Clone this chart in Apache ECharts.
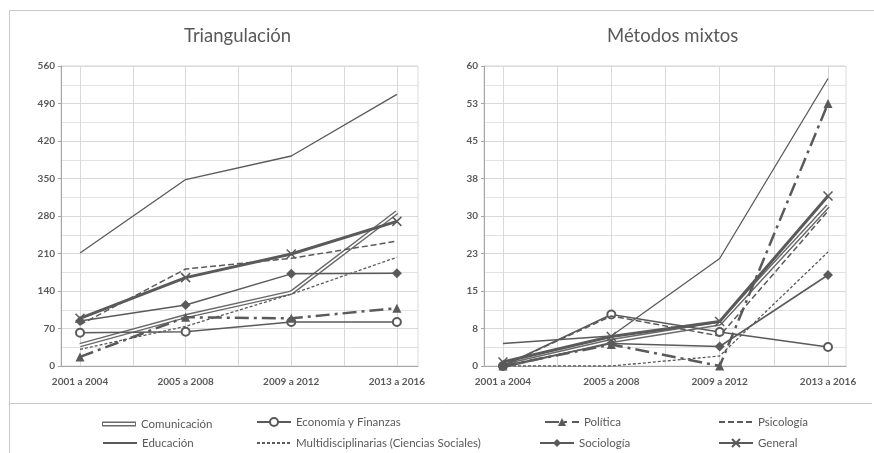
<!DOCTYPE html>
<html><head><meta charset="utf-8">
<script src="https://cdn.jsdelivr.net/npm/echarts@6/dist/echarts.min.js"></script>
<style>html,body{margin:0;padding:0;background:#fff}#c{width:874px;height:453px}</style>
</head><body><div id="c"></div>
<script>
// ---- data ----
const categories = ['2001 a 2004', '2005 a 2008', '2009 a 2012', '2013 a 2016'];
const seriesNames = ['Comunicación', 'Economía y Finanzas', 'Educación', 'Multidisciplinarias (Ciencias Sociales)',
  'Política', 'Psicología', 'Sociología', 'General'];
const chartTitles = ['Triangulación', 'Métodos mixtos'];

// Triangulación
const triComunicacion = [39, 93, 137, 287];
const triEconomia = [62, 64, 82, 82];
const triEducacion = [211, 348, 392, 507];
const triMulti = [31, 74, 134, 203];
const triPolitica = [17, 91, 89, 108];
const triPsicologia = [77, 181, 201, 233];
const triSociologia = [84, 114, 172, 173];
const triGeneral = [89, 165, 209, 270];

// Métodos mixtos
const mmComunicacion = [0, 5, 8.5, 32];
const mmEconomia = [0, 10.3, 6.8, 3.8];
const mmEducacion = [4.5, 6, 21.5, 57.5];
const mmMulti = [0, 0, 2, 22.8];
const mmPolitica = [0, 4.3, 0, 52.5];
const mmPsicologia = [0, 10, 6, 31];
const mmSociologia = [0, 4.5, 3.9, 18.2];
const mmGeneral = [0.8, 5.9, 8.9, 34];

const triValues = [triComunicacion, triEconomia, triEducacion, triMulti, triPolitica, triPsicologia, triSociologia, triGeneral];
const mmValues = [mmComunicacion, mmEconomia, mmEducacion, mmMulti, mmPolitica, mmPsicologia, mmSociologia, mmGeneral];

// ---- styles ----
const C = '#5a5a5a';
const FONT = 'Lato';
const styles = {
  'Comunicación': { width: 4.5, type: 'solid', symbol: 'none', double: true, color: '#6a6a6a' },
  'Economía y Finanzas': { width: 1.5, type: 'solid', symbol: 'emptyCircle', size: 8 },
  'Educación': { width: 1.3, type: 'solid', symbol: 'none' },
  'Multidisciplinarias (Ciencias Sociales)': { width: 1.3, type: [3, 2], symbol: 'none' },
  'Política': { width: 2.5, type: [14, 5, 3, 5], symbol: 'triangle', size: 9 },
  'Psicología': { width: 1.5, type: [6, 3], symbol: 'none' },
  'Sociología': { width: 1.5, type: 'solid', symbol: 'diamond', size: 10 },
  'General': { width: 3, type: 'solid', symbol: 'path://M0,0L10,10M10,0L0,10', size: 9, border: 1.5 }
};

function buildSeries(values, idx) {
  const out = [];
  seriesNames.forEach((name, k) => {
    const st = styles[name];
    const data = values[k].map((v, i) => [i, v]);
    const s = {
      name: name, type: 'line', xAxisIndex: idx, yAxisIndex: idx, data: data,
      color: st.color || C, symbol: st.symbol, symbolSize: st.size || 6, showSymbol: st.symbol !== 'none',
      lineStyle: { width: st.width, type: st.type, color: st.color || C },
      itemStyle: { color: st.color || C },
      z: 3 + k, animation: false, silent: true
    };
    if (st.symbol === 'emptyCircle') s.itemStyle.borderWidth = 2;
    if (st.border) { s.itemStyle.borderColor = C; s.itemStyle.borderWidth = st.border; }
    out.push(s);
    if (st.double) {
      out.push({
        name: name + ' ', type: 'line', xAxisIndex: idx, yAxisIndex: idx, data: data,
        symbol: 'none', lineStyle: { width: 1.6, color: '#ffffff' }, z: 3 + k, zlevel: 0,
        animation: false, silent: true
      });
    }
  });
  // vertical gridlines at categories and half-way between them
  const gx = [];
  categories.forEach((_, i) => { gx.push(i); if (i < categories.length - 1) gx.push(i + 0.5); });
  out.push({
    name: 'grid' + idx, type: 'line', xAxisIndex: idx, yAxisIndex: idx, data: [[0, 0]],
    symbol: 'none', lineStyle: { opacity: 0 }, animation: false, silent: true, z: 1,
    markLine: {
      silent: true, symbol: ['none', 'none'], label: { show: false }, animation: false, z: 1,
      lineStyle: { color: '#d9d9d9', type: 'solid', width: 1 },
      data: gx.map(x => ({ xAxis: x }))
    }
  });
  return out;
}

const grids = [
  { left: 61, top: 66, width: 357, height: 300 },
  { left: 484, top: 66, width: 362, height: 300 }
];
const xRanges = [[-0.18, 3.2], [-0.175, 3.166]];
const yRanges = [[0, 560, 70], [0, 60, 7.5]];

const option = {
  backgroundColor: '#fff',
  animation: false,
  textStyle: { fontFamily: FONT },
  title: [
    { text: chartTitles[0], left: 184, top: 27, padding: 0, textStyle: { fontFamily: FONT, fontSize: 18.5, fontWeight: 'normal', color: '#595959' } },
    { text: chartTitles[1], left: 607, top: 27, padding: 0, textStyle: { fontFamily: FONT, fontSize: 18.5, fontWeight: 'normal', color: '#595959' } }
  ],
  grid: grids.map(g => Object.assign({ show: true, borderColor: '#d9d9d9', borderWidth: 1, containLabel: false }, g)),
  xAxis: [0, 1].map(i => ({
    type: 'value', gridIndex: i, min: xRanges[i][0], max: xRanges[i][1],
    axisLine: { show: true, onZero: false, lineStyle: { color: '#a6a6a6', width: 1 } },
    axisTick: { show: false },
    splitLine: { show: false },
    axisLabel: {
      customValues: categories.map((_, k) => k),
      formatter: v => categories[Math.round(v)],
      fontFamily: FONT, fontSize: 10, color: '#595959', margin: 11, fontWeight: 'bold'
    }
  })),
  yAxis: [0, 1].map(i => ({
    type: 'value', gridIndex: i, min: yRanges[i][0], max: yRanges[i][1], interval: yRanges[i][2],
    axisLine: { show: true, onZero: false, lineStyle: { color: '#a6a6a6', width: 1 } },
    axisTick: { show: true, length: 3, lineStyle: { color: '#a6a6a6' } },
    axisLabel: {
      formatter: v => String(Math.round(v)),
      fontFamily: FONT, fontSize: 10, color: '#595959', margin: 6, fontWeight: 'bold'
    },
    splitLine: { show: true, lineStyle: { color: '#d9d9d9', width: 1 } },
    minorTick: { show: false, splitNumber: 2 },
    minorSplitLine: { show: true, lineStyle: { color: '#e2e2e2', width: 1 } }
  })),
  legend: [],
  series: buildSeries(triValues, 0).concat(buildSeries(mmValues, 1)),
  graphic: [
    { type: 'line', shape: { x1: 9.5, y1: 10.5, x2: 874, y2: 10.5 }, style: { stroke: '#c8c8c8', lineWidth: 1 }, silent: true },
    { type: 'line', shape: { x1: 9.5, y1: 10.5, x2: 9.5, y2: 453 }, style: { stroke: '#c8c8c8', lineWidth: 1 }, silent: true },
    { type: 'line', shape: { x1: 9.5, y1: 403.5, x2: 872, y2: 403.5 }, style: { stroke: '#c8c8c8', lineWidth: 1 }, silent: true }
  ]
};

// legend: one component per entry, placed in two rows of four columns
const legendLeft = [102, 256, 544, 718];
const legendLeft2 = [102, 256, 539, 718];
const legendTop = [416, 437];
const legendOrder = [
  ['Comunicación', 'Economía y Finanzas', 'Política', 'Psicología'],
  ['Educación', 'Multidisciplinarias (Ciencias Sociales)', 'Sociología', 'General']
];
legendOrder.forEach((row, r) => {
  row.forEach((name, c) => {
    const st = styles[name];
    const item = { name: name };
    let itemHeight = 10;
    if (st.double) {
      item.icon = 'path://M0,0H34V5H0Z M1,1.5V3.5H33V1.5Z';
      itemHeight = 5;
    } else if (st.symbol === 'none') {
      item.itemStyle = { opacity: 0 };
    }
    option.legend.push({
      left: (r === 0 ? legendLeft : legendLeft2)[c], top: legendTop[r] + (st.double ? 2 : 0), padding: 0,
      itemWidth: 34, itemHeight: itemHeight, selectedMode: false,
      textStyle: { fontFamily: FONT, fontSize: 11.5, color: '#595959' },
      data: [item]
    });
  });
});

const chart = echarts.init(document.getElementById('c'), null, { renderer: 'canvas' });
chart.setOption(option);
</script>
</body></html>
